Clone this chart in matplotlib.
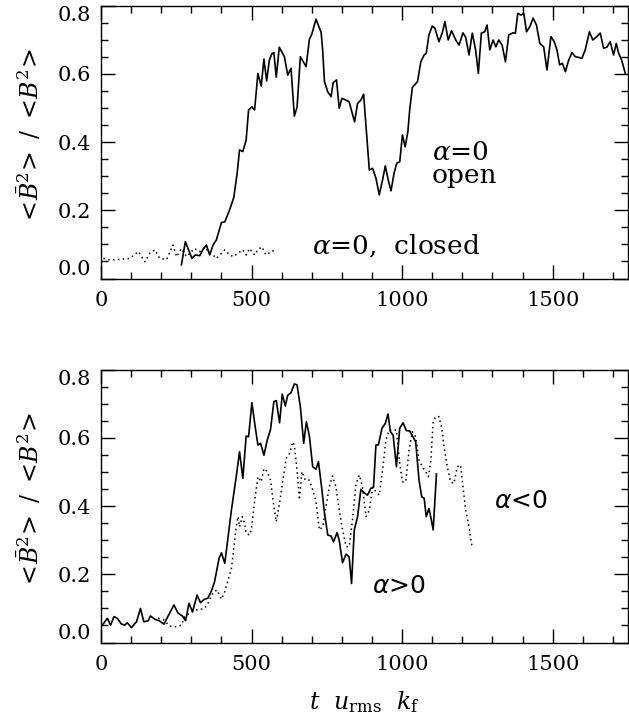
import matplotlib
matplotlib.use("Agg")
import matplotlib.pyplot as plt
from matplotlib.ticker import MultipleLocator

# Mean-field energy fraction <Bbar^2>/<B^2> against time t u_rms k_f
t_open = [267, 280, 302, 313, 328, 339, 350, 361, 372, 383, 400, 411, 427, 441, 452,
          460, 471, 482, 490, 501, 510, 521, 532, 541, 550, 559, 567, 574, 582, 592,
          600, 609, 620, 631, 642, 651, 662, 681, 692, 700, 714, 731, 736, 742, 753,
          764, 771, 782, 791, 800, 813, 824, 833, 842, 852, 863, 872, 882, 891, 902,
          913, 924, 935, 944, 955, 963, 973, 982, 992, 1001, 1010, 1019, 1025, 1034,
          1051, 1062, 1073, 1080, 1089, 1100, 1109, 1122, 1133, 1142, 1153, 1164, 1178,
          1189, 1202, 1211, 1222, 1233, 1244, 1253, 1263, 1274, 1282, 1291, 1302, 1311,
          1321, 1332, 1343, 1354, 1368, 1376, 1384, 1395, 1404, 1413, 1424, 1435, 1446,
          1457, 1470, 1481, 1494, 1505, 1514, 1523, 1532, 1542, 1553, 1564, 1575, 1586,
          1597, 1608, 1622, 1633, 1644, 1658, 1669, 1680, 1691, 1702, 1711, 1719, 1729,
          1741]
b_open = [0.040, 0.108, 0.059, 0.069, 0.067, 0.086, 0.098, 0.069, 0.098, 0.113, 0.164,
          0.166, 0.201, 0.238, 0.308, 0.377, 0.372, 0.406, 0.494, 0.503, 0.494, 0.601,
          0.564, 0.643, 0.579, 0.640, 0.658, 0.662, 0.590, 0.678, 0.665, 0.650, 0.596,
          0.616, 0.476, 0.502, 0.650, 0.621, 0.701, 0.716, 0.760, 0.721, 0.670, 0.577,
          0.547, 0.533, 0.574, 0.582, 0.499, 0.528, 0.523, 0.518, 0.489, 0.459, 0.513,
          0.523, 0.540, 0.425, 0.318, 0.323, 0.294, 0.245, 0.289, 0.330, 0.284, 0.257,
          0.308, 0.338, 0.342, 0.421, 0.386, 0.430, 0.494, 0.560, 0.577, 0.635, 0.655,
          0.660, 0.714, 0.740, 0.733, 0.694, 0.719, 0.753, 0.699, 0.726, 0.699, 0.684,
          0.720, 0.707, 0.655, 0.719, 0.670, 0.601, 0.719, 0.723, 0.743, 0.670, 0.699,
          0.679, 0.699, 0.684, 0.635, 0.714, 0.720, 0.719, 0.777, 0.772, 0.777, 0.723,
          0.738, 0.763, 0.743, 0.689, 0.679, 0.611, 0.709, 0.694, 0.670, 0.626, 0.631,
          0.606, 0.640, 0.662, 0.650, 0.648, 0.645, 0.670, 0.723, 0.699, 0.707, 0.719,
          0.675, 0.678, 0.694, 0.655, 0.689, 0.660, 0.640, 0.601]

t_closed = [8, 30, 63, 96, 124, 135, 146, 162, 179, 195, 218, 239, 251, 267, 284, 295,
            310, 328, 345, 361, 372, 383, 400, 411, 422, 438, 455, 471, 482, 493, 510,
            521, 534, 548, 565, 582]
b_closed = [0.059, 0.054, 0.056, 0.059, 0.079, 0.064, 0.049, 0.074, 0.084, 0.059, 0.056,
            0.098, 0.064, 0.088, 0.064, 0.074, 0.088, 0.079, 0.092, 0.074, 0.069, 0.059,
            0.074, 0.084, 0.074, 0.064, 0.074, 0.084, 0.069, 0.088, 0.069, 0.084, 0.093,
            0.069, 0.079, 0.084]

t_pos = [2, 21, 32, 43, 54, 68, 79, 87, 101, 118, 131, 142, 157, 164, 179, 193, 209, 223,
         242, 256, 270, 281, 292, 304, 319, 330, 344, 355, 367, 377, 392, 400, 411, 422,
         433, 449, 460, 471, 482, 490, 501, 512, 521, 530, 541, 552, 563, 574, 582, 593,
         602, 612, 620, 631, 642, 651, 662, 673, 682, 692, 703, 714, 722, 733, 742, 753,
         764, 772, 784, 791, 802, 814, 824, 832, 841, 852, 863, 874, 885, 896, 905, 913,
         921, 933, 944, 953, 961, 970, 981, 992, 1003, 1014, 1025, 1036, 1045, 1056, 1065,
         1073, 1080, 1089, 1096, 1103, 1114]
b_pos = [0.048, 0.071, 0.051, 0.076, 0.071, 0.054, 0.051, 0.058, 0.044, 0.061, 0.100,
         0.061, 0.064, 0.078, 0.068, 0.064, 0.054, 0.078, 0.110, 0.086, 0.078, 0.064,
         0.115, 0.090, 0.139, 0.117, 0.127, 0.130, 0.152, 0.178, 0.247, 0.263, 0.232,
         0.310, 0.388, 0.486, 0.559, 0.481, 0.605, 0.603, 0.703, 0.632, 0.579, 0.584,
         0.549, 0.593, 0.625, 0.706, 0.709, 0.644, 0.728, 0.693, 0.725, 0.732, 0.758,
         0.755, 0.691, 0.584, 0.647, 0.605, 0.515, 0.508, 0.530, 0.452, 0.379, 0.315,
         0.312, 0.295, 0.322, 0.300, 0.234, 0.259, 0.251, 0.173, 0.330, 0.369, 0.449,
         0.439, 0.432, 0.452, 0.455, 0.579, 0.579, 0.628, 0.642, 0.670, 0.618, 0.608,
         0.515, 0.628, 0.644, 0.621, 0.620, 0.603, 0.588, 0.476, 0.427, 0.423, 0.369,
         0.393, 0.364, 0.330, 0.494]

t_neg = [190, 206, 228, 251, 267, 278, 295, 311, 328, 344, 355, 372, 385, 400, 411, 422,
         433, 444, 449, 455, 460, 469, 477, 482, 493, 499, 510, 521, 532, 541, 552, 563,
         574, 582, 593, 604, 615, 626, 637, 642, 651, 659, 667, 678, 692, 703, 714, 725,
         736, 747, 758, 769, 780, 791, 802, 814, 824, 835, 847, 858, 868, 880, 891, 902,
         913, 924, 935, 946, 957, 968, 981, 992, 1001, 1012, 1023, 1034, 1045, 1056, 1067,
         1078, 1087, 1095, 1103, 1111, 1122, 1131, 1139, 1150, 1161, 1172, 1183, 1194,
         1202, 1211, 1222, 1233]
b_neg = [0.071, 0.068, 0.048, 0.046, 0.051, 0.076, 0.087, 0.095, 0.097, 0.100, 0.115,
         0.146, 0.154, 0.127, 0.149, 0.183, 0.217, 0.300, 0.339, 0.369, 0.339, 0.369,
         0.349, 0.320, 0.315, 0.330, 0.413, 0.486, 0.471, 0.510, 0.501, 0.476, 0.398,
         0.354, 0.408, 0.476, 0.540, 0.554, 0.588, 0.579, 0.506, 0.418, 0.501, 0.476,
         0.476, 0.447, 0.413, 0.330, 0.339, 0.398, 0.457, 0.488, 0.457, 0.388, 0.330,
         0.281, 0.281, 0.359, 0.466, 0.491, 0.457, 0.369, 0.388, 0.455, 0.442, 0.432,
         0.506, 0.593, 0.623, 0.623, 0.623, 0.525, 0.471, 0.471, 0.564, 0.618, 0.603,
         0.535, 0.515, 0.501, 0.486, 0.530, 0.647, 0.662, 0.662, 0.632, 0.574, 0.515,
         0.471, 0.466, 0.515, 0.520, 0.457, 0.388, 0.339, 0.276]

plt.rcParams['font.family'] = ['DejaVu Serif']
plt.rcParams['mathtext.fontset'] = 'dejavuserif'

DOTS = (0, (1, 2.2))
YLABEL = r'$<\!\bar{B}^2\!>\ /\ <\!B^2\!>$'


def style_axes(ax):
    ax.set_xlim(0, 1750)
    ax.set_ylim(0, 0.8)
    ax.xaxis.set_major_locator(MultipleLocator(500))
    ax.xaxis.set_minor_locator(MultipleLocator(100))
    ax.yaxis.set_minor_locator(MultipleLocator(0.05))
    ax.set_yticks([0, 0.2, 0.4, 0.6, 0.8])
    ax.set_yticklabels(['0.0', '0.2', '0.4', '0.6', '0.8'])
    ax.tick_params(which='both', direction='in', top=True, right=True,
                   labelsize=15, width=1)
    ax.tick_params(which='major', length=10)
    ax.tick_params(which='minor', length=5)
    ax.tick_params(axis='x', pad=9)
    ax.tick_params(axis='y', pad=7)
    for s in ax.spines.values():
        s.set_linewidth(1)
    # end labels sit inside the axis range
    labels = ax.get_yticklabels()
    labels[0].set_va('bottom')
    labels[-1].set_va('top')
    ax.set_ylabel(YLABEL, fontsize=17)
    ax.yaxis.set_label_coords(-0.108, 0.52)


fig = plt.figure(figsize=(6.29, 7.18), dpi=100)
ax1 = fig.add_axes([0.1606, 0.6121, 0.8378, 0.3802])
ax2 = fig.add_axes([0.1606, 0.1051, 0.8378, 0.3802])

# top: alpha = 0, open and closed boundaries
ax1.plot(t_open, b_open, color='black', lw=1.2)
ax1.plot(t_closed, b_closed, color='black', lw=1.1, linestyle=DOTS)
style_axes(ax1)
ax1.text(1099, 0.405, r'$\alpha$=0' + '\nopen', fontsize=19, va='top',
         linespacing=0.9)
ax1.text(700, 0.072, r'$\alpha$=0,  closed', fontsize=19, va='baseline')

# bottom: positive and negative alpha
ax2.plot(t_pos, b_pos, color='black', lw=1.2)
ax2.plot(t_neg, b_neg, color='black', lw=1.1, linestyle=DOTS)
style_axes(ax2)
ax2.text(1305, 0.394, r'$\alpha$<0', fontsize=18, va='baseline',
         family='DejaVu Sans', math_fontfamily='dejavusans')
ax2.text(900, 0.145, r'$\alpha$>0', fontsize=18, va='baseline',
         family='DejaVu Sans', math_fontfamily='dejavusans')
ax2.set_xlabel(r'$t\ \ u_{\rm rms}\ \ k_{\rm f}$', fontsize=17)
ax2.xaxis.set_label_coords(0.5, -0.17)
ax2.xaxis.label.set_va('top')

fig.savefig('out.png', dpi=100)
